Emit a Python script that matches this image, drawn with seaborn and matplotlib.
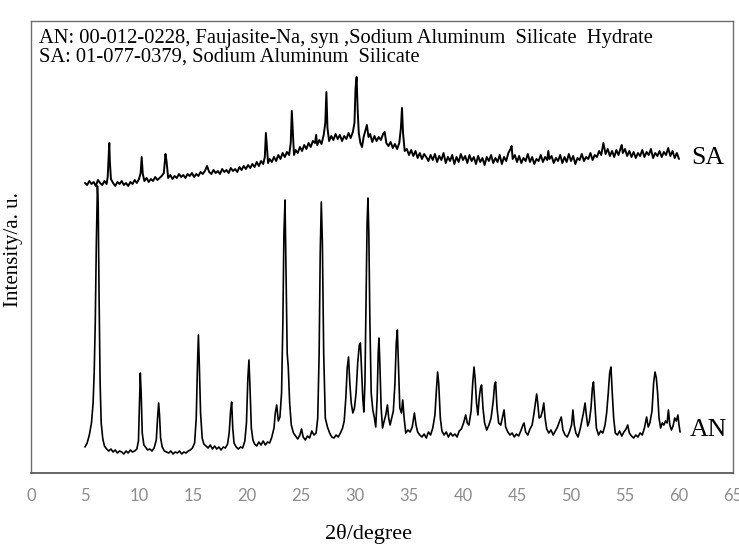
import numpy as np
import pandas as pd
import matplotlib
matplotlib.use("Agg")
import matplotlib.pyplot as plt
import seaborn as sns

# ---------------- data ----------------
tick_values = [0, 5, 10, 15, 20, 25, 30, 35, 40, 45, 50, 55, 60, 65]

an_x = [
    5.0, 5.2, 5.4, 5.6, 5.75, 5.85, 5.95, 6.05, 6.15, 6.22,
    6.3, 6.4, 6.5, 6.65, 6.8, 7.0, 7.2, 7.4, 7.6, 7.8,
    8.0, 8.2, 8.4, 8.6, 8.8, 9.0, 9.2, 9.4, 9.6, 9.8,
    9.95, 10.05, 10.12, 10.2, 10.3, 10.45, 10.6, 10.8, 11.0, 11.2,
    11.4, 11.6, 11.72, 11.82, 11.9, 12.0, 12.15, 12.35, 12.55, 12.75,
    12.95, 13.15, 13.35, 13.55, 13.75, 13.95, 14.15, 14.35, 14.55, 14.75,
    14.95, 15.15, 15.3, 15.42, 15.5, 15.58, 15.7, 15.85, 16.0, 16.2,
    16.4, 16.6, 16.8, 17.0, 17.2, 17.4, 17.6, 17.8, 18.0, 18.2,
    18.35, 18.48, 18.58, 18.68, 18.8, 19.0, 19.2, 19.4, 19.6, 19.8,
    19.95, 20.08, 20.18, 20.28, 20.4, 20.55, 20.7, 20.9, 21.1, 21.3,
    21.5, 21.7, 21.9, 22.1, 22.3, 22.5, 22.62, 22.75, 22.9, 23.05,
    23.2, 23.32, 23.42, 23.52, 23.62, 23.72, 23.82, 23.95, 24.1, 24.3,
    24.5, 24.7, 24.9, 25.05, 25.2, 25.4, 25.6, 25.8, 26.0, 26.2,
    26.4, 26.55, 26.68, 26.78, 26.88, 26.98, 27.1, 27.25, 27.45, 27.65,
    27.85, 28.05, 28.25, 28.45, 28.65, 28.85, 29.0, 29.15, 29.28, 29.4,
    29.52, 29.65, 29.8, 29.95, 30.1, 30.25, 30.4, 30.5, 30.6, 30.72,
    30.82, 30.92, 31.02, 31.12, 31.2, 31.28, 31.38, 31.5, 31.65, 31.8,
    31.92, 32.05, 32.15, 32.22, 32.3, 32.42, 32.55, 32.7, 32.85, 33.0,
    33.12, 33.25, 33.4, 33.55, 33.7, 33.82, 33.92, 34.02, 34.15, 34.3,
    34.42, 34.55, 34.7, 34.9, 35.1, 35.3, 35.5, 35.65, 35.8, 36.0,
    36.2, 36.4, 36.6, 36.8, 37.0, 37.2, 37.4, 37.55, 37.65, 37.75,
    37.9, 38.05, 38.25, 38.45, 38.65, 38.85, 39.05, 39.25, 39.45, 39.65,
    39.85, 40.05, 40.25, 40.4, 40.55, 40.75, 40.9, 41.02, 41.12, 41.25,
    41.38, 41.5, 41.62, 41.72, 41.85, 42.0, 42.2, 42.4, 42.6, 42.8,
    42.92, 43.02, 43.15, 43.3, 43.5, 43.7, 43.8, 43.95, 44.15, 44.35,
    44.55, 44.75, 44.95, 45.15, 45.35, 45.55, 45.65, 45.8, 46.0, 46.2,
    46.4, 46.55, 46.7, 46.82, 46.92, 47.05, 47.2, 47.35, 47.48, 47.6,
    47.75, 47.95, 48.15, 48.35, 48.55, 48.75, 48.95, 49.1, 49.25, 49.45,
    49.65, 49.85, 50.05, 50.18, 50.3, 50.45, 50.65, 50.85, 51.0, 51.15,
    51.3, 51.42, 51.55, 51.7, 51.85, 51.98, 52.08, 52.2, 52.35, 52.55,
    52.75, 52.95, 53.15, 53.3, 53.45, 53.58, 53.7, 53.82, 53.95, 54.1,
    54.3, 54.5, 54.7, 54.9, 55.1, 55.25, 55.4, 55.6, 55.8, 56.0,
    56.2, 56.4, 56.6, 56.8, 57.0, 57.15, 57.3, 57.5, 57.65, 57.78,
    57.9, 58.02, 58.15, 58.3, 58.45, 58.6, 58.75, 58.9, 59.02, 59.15,
    59.3, 59.45, 59.6, 59.75, 59.9, 60.0, 60.1,
]
an_y = [
    26, 30, 38, 50, 70, 100, 150, 230, 287, 270,
    180, 90, 50, 34, 27, 24, 22, 24, 21, 23,
    20, 22, 21, 19, 22, 20, 23, 21, 22, 24,
    32, 70, 100, 80, 40, 28, 26, 23, 24, 22,
    25, 33, 55, 70, 58, 35, 26, 22, 21, 20,
    22, 19, 21, 20, 22, 19, 21, 20, 22, 23,
    25, 30, 55, 110, 138, 110, 60, 35, 29, 27,
    25, 28, 24, 27, 24, 26, 23, 26, 25, 29,
    40, 62, 71, 45, 30, 26, 24, 26, 25, 32,
    50, 95, 113, 85, 45, 33, 29, 27, 31, 28,
    32, 28, 31, 30, 36, 45, 60, 68, 52, 56,
    80, 150, 240, 273, 200, 120, 106, 70, 48, 40,
    37, 34, 38, 44, 36, 33, 37, 35, 42, 38,
    40, 55, 120, 220, 271, 230, 120, 55, 46, 40,
    36, 35, 38, 36, 40, 45, 52, 75, 105, 116,
    90, 70, 60, 65, 80, 110, 128, 130, 105, 75,
    61, 90, 170, 250, 275, 240, 150, 80, 63, 55,
    46, 75, 120, 135, 110, 65, 45, 52, 58, 68,
    55, 48, 55, 62, 90, 130, 143, 110, 65, 60,
    73, 55, 40, 43, 41, 46, 60, 48, 41, 38,
    36, 39, 35, 41, 38, 45, 58, 85, 101, 90,
    55, 42, 38, 41, 36, 40, 37, 39, 36, 42,
    44, 50, 58, 50, 48, 62, 90, 106, 95, 70,
    58, 75, 85, 88, 65, 50, 43, 48, 55, 72,
    88, 91, 65, 50, 48, 58, 63, 46, 41, 38,
    40, 36, 39, 37, 42, 48, 50, 41, 38, 44,
    48, 58, 70, 79, 70, 55, 56, 62, 70, 55,
    44, 40, 43, 38, 42, 46, 52, 56, 43, 38,
    36, 41, 48, 63, 48, 40, 36, 44, 52, 60,
    70, 58, 47, 52, 65, 85, 91, 70, 45, 38,
    42, 40, 48, 60, 80, 100, 106, 80, 55, 40,
    38, 42, 37, 41, 44, 48, 40, 37, 35, 38,
    36, 40, 38, 45, 56, 46, 50, 62, 90, 101,
    95, 80, 55, 45, 50, 48, 52, 50, 63, 48,
    43, 47, 55, 52, 58, 48, 41,
]

sa_x = [
    5.0, 5.2, 5.4, 5.6, 5.8, 6.0, 6.2, 6.4, 6.6, 6.8,
    7.0, 7.1, 7.2, 7.25, 7.3, 7.4, 7.6, 7.8, 8.0, 8.2,
    8.4, 8.6, 8.8, 9.0, 9.2, 9.4, 9.6, 9.8, 10.0, 10.15,
    10.25, 10.35, 10.5, 10.7, 10.9, 11.1, 11.3, 11.5, 11.7, 11.9,
    12.1, 12.3, 12.45, 12.55, 12.7, 12.9, 13.1, 13.3, 13.5, 13.7,
    13.9, 14.1, 14.3, 14.5, 14.7, 14.9, 15.1, 15.3, 15.5, 15.7,
    15.9, 16.1, 16.3, 16.5, 16.7, 16.9, 17.1, 17.3, 17.5, 17.7,
    17.9, 18.1, 18.3, 18.5, 18.7, 18.9, 19.1, 19.3, 19.5, 19.7,
    19.9, 20.1, 20.3, 20.5, 20.7, 20.9, 21.1, 21.3, 21.5, 21.65,
    21.75, 21.85, 21.95, 22.1, 22.3, 22.5, 22.7, 22.9, 23.1, 23.3,
    23.5, 23.7, 23.9, 24.05, 24.15, 24.25, 24.35, 24.5, 24.7, 24.9,
    25.1, 25.3, 25.5, 25.7, 25.9, 26.1, 26.3, 26.4, 26.5, 26.7,
    26.9, 27.1, 27.25, 27.35, 27.45, 27.6, 27.8, 28.0, 28.2, 28.4,
    28.6, 28.8, 29.0, 29.2, 29.4, 29.6, 29.8, 29.95, 30.05, 30.15,
    30.25, 30.35, 30.5, 30.65, 30.8, 30.95, 31.1, 31.25, 31.4, 31.6,
    31.8, 32.0, 32.2, 32.4, 32.6, 32.75, 32.9, 33.1, 33.3, 33.5,
    33.7, 33.9, 34.1, 34.25, 34.35, 34.45, 34.6, 34.8, 35.0, 35.2,
    35.4, 35.6, 35.8, 36.0, 36.2, 36.4, 36.6, 36.8, 37.0, 37.2,
    37.4, 37.6, 37.8, 38.0, 38.2, 38.4, 38.6, 38.8, 39.0, 39.2,
    39.4, 39.6, 39.8, 40.0, 40.2, 40.4, 40.6, 40.8, 41.0, 41.2,
    41.4, 41.6, 41.8, 42.0, 42.2, 42.4, 42.6, 42.8, 43.0, 43.2,
    43.4, 43.6, 43.8, 44.0, 44.2, 44.4, 44.5, 44.6, 44.8, 45.0,
    45.2, 45.4, 45.6, 45.8, 46.0, 46.2, 46.4, 46.6, 46.8, 47.0,
    47.2, 47.4, 47.6, 47.8, 47.9, 48.0, 48.2, 48.4, 48.6, 48.8,
    49.0, 49.2, 49.4, 49.6, 49.8, 50.0, 50.2, 50.4, 50.6, 50.8,
    51.0, 51.2, 51.4, 51.6, 51.8, 52.0, 52.2, 52.4, 52.6, 52.8,
    53.0, 53.2, 53.4, 53.6, 53.8, 54.0, 54.2, 54.4, 54.6, 54.7,
    54.8, 55.0, 55.2, 55.4, 55.6, 55.8, 56.0, 56.2, 56.4, 56.6,
    56.8, 57.0, 57.2, 57.4, 57.6, 57.8, 58.0, 58.2, 58.4, 58.6,
    58.8, 59.0, 59.2, 59.4, 59.6, 59.8, 60.0,
]
sa_y = [
    290, 288, 292, 289, 291, 287, 293, 290, 288, 292,
    289, 296, 318, 330, 312, 294, 290, 287, 291, 289,
    292, 288, 290, 287, 291, 289, 293, 290, 294, 300,
    316, 299, 292, 295, 291, 294, 292, 296, 293, 295,
    297, 300, 319, 312, 295, 298, 294, 297, 295, 299,
    296, 298, 295, 299, 297, 300, 296, 299, 297, 301,
    299, 302, 307, 301, 299, 303, 300, 302, 299, 304,
    301, 303, 300, 305, 302, 304, 301, 306, 303, 307,
    304, 308, 305, 309, 306, 311, 307, 312, 309, 316,
    340, 325, 310, 314, 311, 316, 312, 318, 314, 320,
    316, 321, 318, 330, 362, 340, 318, 323, 320, 326,
    322, 328, 324, 330, 326, 332, 330, 338, 328, 333,
    329, 338, 350, 381, 345, 332, 337, 333, 339, 334,
    338, 332, 337, 334, 340, 335, 341, 350, 385, 396,
    362, 340, 330, 326, 336, 342, 348, 336, 339, 331,
    337, 332, 336, 333, 339, 341, 330, 327, 331, 325,
    329, 324, 330, 345, 365, 340, 322, 324, 318, 323,
    317, 322, 315, 320, 314, 319, 316, 312, 318, 313,
    319, 311, 317, 313, 320, 310, 316, 312, 318, 309,
    316, 311, 319, 313, 317, 310, 318, 312, 316, 309,
    317, 311, 315, 308, 316, 312, 318, 310, 315, 311,
    318, 309, 316, 312, 320, 324, 327, 314, 318, 311,
    317, 310, 315, 312, 319, 311, 316, 309, 314, 312,
    318, 311, 316, 313, 322, 314, 317, 310, 315, 312,
    318, 310, 316, 311, 319, 312, 317, 309, 315, 313,
    319, 312, 316, 314, 320, 313, 318, 316, 322, 318,
    330, 319, 324, 317, 322, 316, 323, 318, 325, 328,
    320, 324, 317, 322, 316, 321, 315, 320, 317, 323,
    316, 321, 318, 324, 315, 320, 317, 322, 316, 321,
    318, 325, 317, 322, 315, 320, 314,
]

legend_lines = [
    "AN: 00-012-0228, Faujasite-Na, syn ,Sodium Aluminum  Silicate  Hydrate",
    "SA: 01-077-0379, Sodium Aluminum  Silicate",
]
x_label = "2θ/degree"
y_label = "Intensity/a. u."

assert len(an_x) == len(an_y)
assert len(sa_x) == len(sa_y)

an_df = pd.DataFrame({"two_theta": an_x, "intensity": an_y})
sa_df = pd.DataFrame({"two_theta": sa_x, "intensity": sa_y})

# ---------------- drawing ----------------
sns.set_style("white")
plt.rcParams["font.family"] = ["Liberation Serif", "DejaVu Serif"]

fig = plt.figure(figsize=(7.39, 5.47), dpi=100)
ax = fig.add_axes([31 / 739, 74 / 547, (733 - 31) / 739, (473 - 21) / 547])

sns.lineplot(data=an_df, x="two_theta", y="intensity", color="black",
             linewidth=1.2, estimator=None, sort=False, ax=ax)
sns.lineplot(data=sa_df, x="two_theta", y="intensity", color="black",
             linewidth=1.4, estimator=None, sort=False, ax=ax)

ax.set_xlim(0, 65)
ax.set_ylim(0, 452)
ax.set_xticks(tick_values)
ax.set_xticklabels([str(t) for t in tick_values], family=["Lato", "DejaVu Sans"],
                   fontsize=12, color="#8c8c8c")
ax.set_yticks([])
ax.tick_params(axis="x", direction="inout", length=9, width=1.0,
               color="#595959", pad=6)

for side in ["left", "right", "top", "bottom"]:
    ax.spines[side].set_visible(True)
    ax.spines[side].set_color("#6e6e6e")
    ax.spines[side].set_linewidth(1.0)
ax.spines["bottom"].set_color("#595959")
ax.spines["bottom"].set_linewidth(1.3)

ax.set_xlabel("")
ax.set_ylabel("")
fig.text(369 / 739, 1 - 534 / 547, x_label, ha="center", va="center",
         fontsize=16, color="black")
fig.text(14 / 739, 1 - 250 / 547, y_label, ha="center", va="center",
         rotation=90, fontsize=15, color="black")

ax.text(0.012, 1 - (38 - 21) / 452, legend_lines[0], transform=ax.transAxes,
        ha="left", va="center", fontsize=14.8, color="black")
ax.text(0.012, 1 - (57 - 21) / 452, legend_lines[1], transform=ax.transAxes,
        ha="left", va="center", fontsize=14.8, color="black")

ax.text(61.1, 473 - 158, "SA", ha="left", va="center", fontsize=18.5, color="black")
ax.text(61.0, 473 - 430, "AN", ha="left", va="center", fontsize=18.5, color="black")

fig.savefig("out.png", dpi=100)
